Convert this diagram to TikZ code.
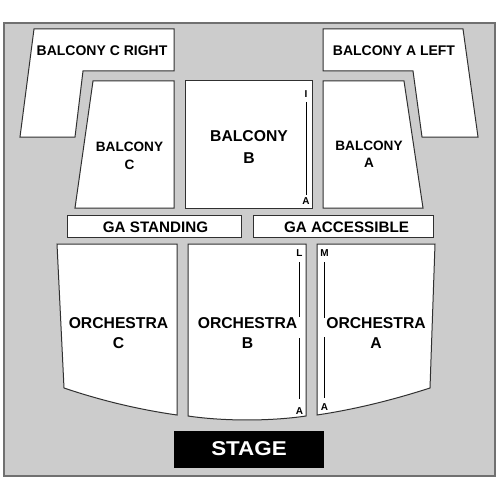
\documentclass[tikz,border=0pt]{standalone}
\usepackage{fontspec}
\setmainfont{Liberation Sans}
\definecolor{bggray}{HTML}{CCCCCC}
\definecolor{bgline}{HTML}{707070}
\definecolor{secline}{HTML}{303030}
\begin{document}
\begin{tikzpicture}[x=1pt,y=-1pt,
  sec/.style={draw=secline, fill=white, line width=1pt, line join=miter},
  rowline/.style={draw=black, line width=0.9pt},
  lbl/.style={font=\bfseries\fontsize{14}{16}\selectfont, anchor=base, inner sep=0pt},
  lblbig/.style={font=\bfseries\fontsize{15.7}{18}\selectfont, anchor=base, inner sep=0pt},
  lblmid/.style={font=\bfseries\fontsize{13.6}{16}\selectfont, anchor=base, inner sep=0pt},
  lblga/.style={font=\bfseries\fontsize{15.2}{18}\selectfont, anchor=base, inner sep=0pt},
  rowlbl/.style={font=\bfseries\fontsize{10}{12}\selectfont, anchor=base, inner sep=0pt}]
\useasboundingbox (0,0) rectangle (500,500);
\fill[white] (0,0) rectangle (500,500);
\draw[fill=bggray, draw=bgline, line width=1.2pt] (4,23) rectangle (495,476);

% balconies
\path[sec] (34,29) -- (174,29) -- (174,71) -- (83,71) -- (75,137) -- (20,137) -- cycle;
\path[sec] (93,81) -- (174,81) -- (174,208) -- (75,208) -- cycle;
\path[sec] (185,81) rectangle (312,208);
\path[sec] (323,81) -- (404,81) -- (423,208) -- (323,208) -- cycle;
\path[sec] (323,29) -- (463,29) -- (478,137) -- (422,137) -- (413,71) -- (323,71) -- cycle;

% GA
\path[sec] (67,215) rectangle (241,237);
\path[sec] (253,215) rectangle (433,237);

% orchestra
\path[sec] (57,244) -- (177,244) -- (177,415) .. controls (138.5,409.5) and (101,400.5) .. (64,388) -- cycle;
\path[sec] (188,244) -- (306,244) -- (306,416) .. controls (270,421.3) and (224,421.3) .. (188,416) -- cycle;
\path[sec] (317,244) -- (435,244) -- (430,388) .. controls (391,400.5) and (354,409.5) .. (317,415) -- cycle;

% stage
\fill[black] (174,431) rectangle (324,468);

% labels
\node[lbl] (bcr) at (102,56) {BALCONY C RIGHT};
\node[lbl] (bal) at (394,56) {BALCONY A LEFT};
\node[lblmid] (bc1) at (129.5,151.7) {BALCONY};
\node[lblmid] (bc2) at (129.5,169) {C};
\node[lblbig] (bb1) at (249,141.7) {BALCONY};
\node[lblbig] (bb2) at (249,163.3) {B};
\node[lblmid] (ba1) at (369,150) {BALCONY};
\node[lblmid] (ba2) at (369,167.3) {A};
\node[lblga] (gas) at (155.5,232.3) {GA STANDING};
\node[lblga] (gaa) at (346.5,232.3) {GA ACCESSIBLE};
\node[lblbig] (oc1) at (118.5,328.3) {ORCHESTRA};
\node[lblbig] (oc2) at (118.5,348.3) {C};
\node[lblbig] (ob1) at (247.5,328.3) {ORCHESTRA};
\node[lblbig] (ob2) at (247.5,348.3) {B};
\node[lblbig] (oa1) at (376,328.3) {ORCHESTRA};
\node[lblbig] (oa2) at (376,348.3) {A};
\node[font=\bfseries\fontsize{20}{24}\selectfont, text=white, anchor=base, inner sep=0pt, xscale=1.12] (stage) at (249,455.7) {STAGE};

% row labels and lines
\node[rowlbl] (bbI) at (306,97.3) {I};
\node[rowlbl] (bbA) at (306,204) {A};
\draw[rowline] (306,102) -- (306,195);
\node[rowlbl] (obL) at (299.5,256.7) {L};
\node[rowlbl] (obA) at (299.5,414) {A};
\draw[rowline] (299.5,262) -- (299.5,317);
\draw[rowline] (299.5,338) -- (299.5,399);
\node[rowlbl] (oaM) at (324.5,256.7) {M};
\node[rowlbl] (oaA) at (324.5,410.7) {A};
\draw[rowline] (324.5,262) -- (324.5,318);
\draw[rowline] (324.5,337) -- (324.5,398);
\end{tikzpicture}
\end{document}
